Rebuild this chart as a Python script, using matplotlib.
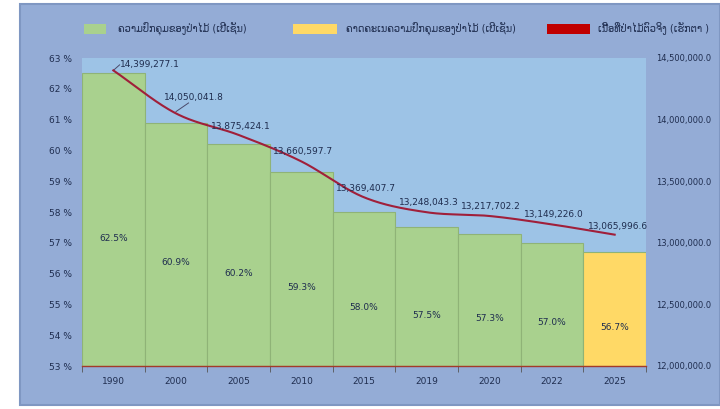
import matplotlib.pyplot as plt
from matplotlib.patches import Rectangle
from matplotlib.ticker import FuncFormatter
import numpy as np

years = ["1990", "2000", "2005", "2010", "2015", "2019", "2020", "2022", "2025"]
cover_pct = [62.5, 60.9, 60.2, 59.3, 58.0, 57.5, 57.3, 57.0, 56.7]
is_projection = [False] * 8 + [True]
area_ha = [14399277.1, 14050041.8, 13875424.1, 13660597.7, 13369407.7,
           13248043.3, 13217702.2, 13149226.0, 13065996.6]

label_cover = "ຄວາມປົກຄຸມຂອງປ່າໄມ້ (ເປີເຊັນ)"
label_proj = "ຄາດຄະເນຄວາມປົກຄຸມຂອງປ່າໄມ້ (ເປີເຊັນ)"
label_area = "ເນື້ອທີ່ປ່າໄມ້ຕົວຈິງ (ເຮັກຕາ )"

plt.rcParams['font.family'] = ['DejaVu Sans']
text_col = "#1f2d4f"
outer_bg = "#94acd6"
plot_bg = "#9dc3e6"
green = "#a9d18e"
yellow = "#ffd966"
line_col = "#a01f3a"

fig = plt.figure(figsize=(7.2, 4.09), dpi=100, facecolor="white")
fig.patches.append(Rectangle((20 / 720, 4 / 409), 700 / 720, 401 / 409,
                             transform=fig.transFigure, facecolor=outer_bg,
                             edgecolor="#7f97c2", lw=1.5, zorder=-10))

ax = fig.add_axes([82 / 720, 43 / 409, 564 / 720, 308 / 409])
ax.set_facecolor(plot_bg)
x = np.arange(len(years))
colors = [yellow if p else green for p in is_projection]
ax.bar(x, [v - 53 for v in cover_pct], bottom=53, width=1.0, color=colors,
       edgecolor="#8fb377", linewidth=0.8, zorder=2)
for xi, v in zip(x, cover_pct):
    ax.text(xi, (v + 53) / 2 - 0.6, f"{v:.1f}%", ha="center", va="center",
            fontsize=6.5, color=text_col, zorder=5)

ax.set_xlim(-0.5, len(years) - 0.5)
ax.set_ylim(53, 63)
ax.set_yticks(range(53, 64))
ax.set_yticklabels([f"{t} %" for t in range(53, 64)])
ax.set_xticks(x)
ax.set_xticklabels(years)
ax.set_xticks(np.arange(-0.5, len(years)), minor=True)
ax.tick_params(axis="x", which="major", length=0, pad=8, labelsize=6.5, colors=text_col)
ax.tick_params(axis="x", which="minor", length=4, color="#555555")
ax.tick_params(axis="y", length=0, pad=7, labelsize=6.5, colors=text_col)
for s in ["top", "right", "left"]:
    ax.spines[s].set_visible(False)
ax.spines["bottom"].set_color("#a33a2a")
ax.spines["bottom"].set_linewidth(1.0)
ax.spines["bottom"].set_zorder(6)

ax2 = ax.twinx()
ax2.set_ylim(12000000, 14500000)
ax2.set_yticks(np.arange(12000000, 14500001, 500000))
ax2.yaxis.set_major_formatter(FuncFormatter(lambda v, p: f"{v:,.1f}"))
ax2.tick_params(axis="y", length=0, pad=7, labelsize=6, colors=text_col)
for s in ax2.spines.values():
    s.set_visible(False)

# smooth curve through the points (Catmull-Rom)
xs = np.linspace(0, len(x) - 1, 400)
ys = np.zeros_like(xs)
pts = np.array(area_ha)
P = np.concatenate([[2 * pts[0] - pts[1]], pts, [2 * pts[-1] - pts[-2]]])
for i, t in enumerate(xs):
    k = min(int(t), len(pts) - 2)
    u = t - k
    p0, p1, p2, p3 = P[k], P[k + 1], P[k + 2], P[k + 3]
    ys[i] = 0.5 * ((2 * p1) + (-p0 + p2) * u + (2 * p0 - 5 * p1 + 4 * p2 - p3) * u ** 2
                   + (-p0 + 3 * p1 - 3 * p2 + p3) * u ** 3)
ax2.plot(xs, ys, color=line_col, lw=1.5, zorder=4)

offsets = [(0.1, 50000), (-0.2, 130000), (-0.45, 70000), (-0.45, 80000), (-0.45, 70000),
           (-0.45, 80000), (-0.45, 80000), (-0.45, 80000), (-0.42, 70000)]
for xi, v, (dx, dy) in zip(x, area_ha, offsets):
    ax2.text(xi + dx, v + dy, f"{v:,.1f}", fontsize=6.5, color=text_col,
             ha="left", va="center", zorder=6)
# leader lines
ax2.plot([0, 0.1], [area_ha[0], area_ha[0] + 45000], color="#4a4a6a", lw=0.7)
ax2.plot([1.0, 1.2], [area_ha[1] + 15000, area_ha[1] + 85000], color="#4a4a6a", lw=0.7)

# legend drawn by hand in pixel positions of the figure
leg_y = 380
for (x0, x1, tx), col, lab in zip([(84, 106, 118), (293, 337, 346), (547, 590, 598)],
                                  [green, yellow, "#c00000"],
                                  [label_cover, label_proj, label_area]):
    fig.patches.append(Rectangle((x0 / 720, (leg_y - 5) / 409), (x1 - x0) / 720, 10 / 409,
                                 transform=fig.transFigure, facecolor=col,
                                 edgecolor="none"))
    fig.text(tx / 720, leg_y / 409, lab, fontsize=7, color=text_col, va="center", ha="left")

fig.savefig("out.png", dpi=100, facecolor="white")
